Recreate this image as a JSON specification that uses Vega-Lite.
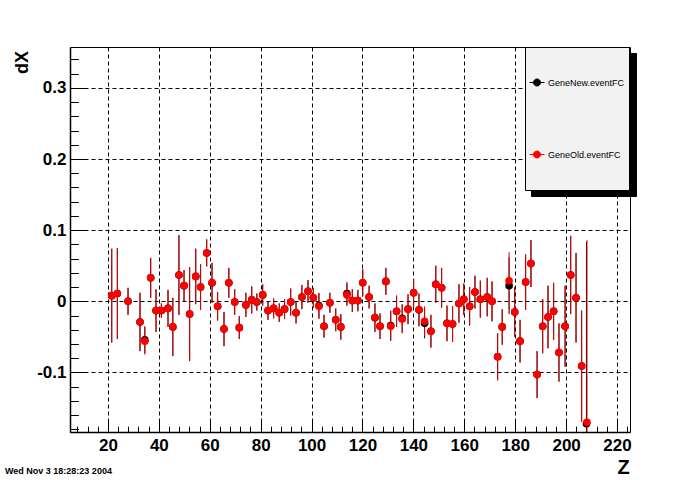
{
  "$schema": "https://vega.github.io/schema/vega-lite/v6.json",
  "width": 560,
  "height": 385,
  "autosize": {"type": "none"},
  "padding": {"left": 70, "top": 47, "right": 70, "bottom": 48},
  "background": "white",
  "title": {
    "text": "Wed Nov  3 18:28:23 2004",
    "orient": "bottom",
    "anchor": "start",
    "frame": "group",
    "font": "Liberation Sans",
    "fontSize": 9,
    "fontWeight": "bold",
    "color": "black",
    "dx": -65,
    "dy": -10,
    "offset": 0
  },
  "config": {
    "view": {"stroke": "black", "strokeWidth": 1},
    "axis": {
      "labelFont": "Liberation Sans",
      "labelFontWeight": "bold",
      "labelFontSize": 17,
      "labelColor": "black",
      "tickColor": "black",
      "domainColor": "black",
      "titleFont": "Liberation Sans",
      "titleFontWeight": "bold",
      "titleColor": "black"
    }
  },
  "datasets": {
    "pts": [
      {"z": 21.5, "dx": 0.008, "err": 0.066, "series": "GeneNew.eventFC"},
      {"z": 23.7, "dx": 0.011, "err": 0.064, "series": "GeneNew.eventFC"},
      {"z": 27.9, "dx": 0.000, "err": 0.019, "series": "GeneNew.eventFC"},
      {"z": 32.6, "dx": -0.029, "err": 0.041, "series": "GeneNew.eventFC"},
      {"z": 34.5, "dx": -0.054, "err": 0.019, "series": "GeneNew.eventFC"},
      {"z": 36.8, "dx": 0.033, "err": 0.028, "series": "GeneNew.eventFC"},
      {"z": 38.9, "dx": -0.013, "err": 0.030, "series": "GeneNew.eventFC"},
      {"z": 41.0, "dx": -0.013, "err": 0.010, "series": "GeneNew.eventFC"},
      {"z": 43.6, "dx": -0.010, "err": 0.026, "series": "GeneNew.eventFC"},
      {"z": 45.5, "dx": -0.036, "err": 0.041, "series": "GeneNew.eventFC"},
      {"z": 47.9, "dx": 0.037, "err": 0.056, "series": "GeneNew.eventFC"},
      {"z": 49.9, "dx": 0.022, "err": 0.022, "series": "GeneNew.eventFC"},
      {"z": 52.1, "dx": -0.018, "err": 0.066, "series": "GeneNew.eventFC"},
      {"z": 54.5, "dx": 0.035, "err": 0.039, "series": "GeneNew.eventFC"},
      {"z": 56.4, "dx": 0.020, "err": 0.032, "series": "GeneNew.eventFC"},
      {"z": 58.8, "dx": 0.068, "err": 0.019, "series": "GeneNew.eventFC"},
      {"z": 60.9, "dx": 0.026, "err": 0.028, "series": "GeneNew.eventFC"},
      {"z": 63.1, "dx": -0.007, "err": 0.020, "series": "GeneNew.eventFC"},
      {"z": 65.6, "dx": -0.039, "err": 0.024, "series": "GeneNew.eventFC"},
      {"z": 67.5, "dx": 0.026, "err": 0.021, "series": "GeneNew.eventFC"},
      {"z": 69.8, "dx": -0.001, "err": 0.018, "series": "GeneNew.eventFC"},
      {"z": 71.6, "dx": -0.037, "err": 0.016, "series": "GeneNew.eventFC"},
      {"z": 74.2, "dx": -0.005, "err": 0.017, "series": "GeneNew.eventFC"},
      {"z": 76.5, "dx": 0.002, "err": 0.019, "series": "GeneNew.eventFC"},
      {"z": 78.5, "dx": -0.001, "err": 0.012, "series": "GeneNew.eventFC"},
      {"z": 80.8, "dx": 0.009, "err": 0.015, "series": "GeneNew.eventFC"},
      {"z": 82.9, "dx": -0.013, "err": 0.013, "series": "GeneNew.eventFC"},
      {"z": 85.1, "dx": -0.010, "err": 0.014, "series": "GeneNew.eventFC"},
      {"z": 87.3, "dx": -0.016, "err": 0.013, "series": "GeneNew.eventFC"},
      {"z": 89.4, "dx": -0.011, "err": 0.014, "series": "GeneNew.eventFC"},
      {"z": 91.8, "dx": -0.001, "err": 0.019, "series": "GeneNew.eventFC"},
      {"z": 93.9, "dx": -0.016, "err": 0.015, "series": "GeneNew.eventFC"},
      {"z": 96.2, "dx": 0.006, "err": 0.017, "series": "GeneNew.eventFC"},
      {"z": 98.6, "dx": 0.014, "err": 0.016, "series": "GeneNew.eventFC"},
      {"z": 100.7, "dx": 0.005, "err": 0.014, "series": "GeneNew.eventFC"},
      {"z": 102.9, "dx": -0.006, "err": 0.018, "series": "GeneNew.eventFC"},
      {"z": 104.9, "dx": -0.035, "err": 0.016, "series": "GeneNew.eventFC"},
      {"z": 107.2, "dx": -0.002, "err": 0.014, "series": "GeneNew.eventFC"},
      {"z": 109.5, "dx": -0.026, "err": 0.016, "series": "GeneNew.eventFC"},
      {"z": 111.5, "dx": -0.036, "err": 0.018, "series": "GeneNew.eventFC"},
      {"z": 113.9, "dx": 0.011, "err": 0.016, "series": "GeneNew.eventFC"},
      {"z": 116.0, "dx": 0.001, "err": 0.016, "series": "GeneNew.eventFC"},
      {"z": 118.2, "dx": 0.001, "err": 0.015, "series": "GeneNew.eventFC"},
      {"z": 120.1, "dx": 0.026, "err": 0.019, "series": "GeneNew.eventFC"},
      {"z": 122.6, "dx": 0.006, "err": 0.016, "series": "GeneNew.eventFC"},
      {"z": 124.9, "dx": -0.023, "err": 0.020, "series": "GeneNew.eventFC"},
      {"z": 126.9, "dx": -0.035, "err": 0.018, "series": "GeneNew.eventFC"},
      {"z": 129.2, "dx": 0.028, "err": 0.019, "series": "GeneNew.eventFC"},
      {"z": 131.1, "dx": -0.034, "err": 0.021, "series": "GeneNew.eventFC"},
      {"z": 133.4, "dx": -0.014, "err": 0.022, "series": "GeneNew.eventFC"},
      {"z": 135.6, "dx": -0.024, "err": 0.020, "series": "GeneNew.eventFC"},
      {"z": 137.9, "dx": -0.011, "err": 0.021, "series": "GeneNew.eventFC"},
      {"z": 140.1, "dx": 0.012, "err": 0.019, "series": "GeneNew.eventFC"},
      {"z": 142.2, "dx": -0.012, "err": 0.023, "series": "GeneNew.eventFC"},
      {"z": 144.4, "dx": -0.031, "err": 0.021, "series": "GeneNew.eventFC"},
      {"z": 146.9, "dx": -0.042, "err": 0.023, "series": "GeneNew.eventFC"},
      {"z": 148.8, "dx": 0.024, "err": 0.026, "series": "GeneNew.eventFC"},
      {"z": 151.1, "dx": 0.019, "err": 0.028, "series": "GeneNew.eventFC"},
      {"z": 153.2, "dx": -0.031, "err": 0.025, "series": "GeneNew.eventFC"},
      {"z": 155.4, "dx": -0.032, "err": 0.025, "series": "GeneNew.eventFC"},
      {"z": 157.9, "dx": -0.003, "err": 0.027, "series": "GeneNew.eventFC"},
      {"z": 159.8, "dx": 0.003, "err": 0.022, "series": "GeneNew.eventFC"},
      {"z": 162.1, "dx": -0.007, "err": 0.027, "series": "GeneNew.eventFC"},
      {"z": 164.2, "dx": 0.013, "err": 0.023, "series": "GeneNew.eventFC"},
      {"z": 166.3, "dx": 0.003, "err": 0.026, "series": "GeneNew.eventFC"},
      {"z": 169.0, "dx": 0.006, "err": 0.027, "series": "GeneNew.eventFC"},
      {"z": 170.9, "dx": 0.000, "err": 0.028, "series": "GeneNew.eventFC"},
      {"z": 173.1, "dx": -0.078, "err": 0.033, "series": "GeneNew.eventFC"},
      {"z": 174.9, "dx": -0.036, "err": 0.025, "series": "GeneNew.eventFC"},
      {"z": 177.6, "dx": 0.022, "err": 0.040, "series": "GeneNew.eventFC"},
      {"z": 179.8, "dx": -0.015, "err": 0.035, "series": "GeneNew.eventFC"},
      {"z": 181.9, "dx": -0.056, "err": 0.030, "series": "GeneNew.eventFC"},
      {"z": 184.1, "dx": 0.027, "err": 0.039, "series": "GeneNew.eventFC"},
      {"z": 186.2, "dx": 0.053, "err": 0.033, "series": "GeneNew.eventFC"},
      {"z": 188.6, "dx": -0.103, "err": 0.033, "series": "GeneNew.eventFC"},
      {"z": 190.8, "dx": -0.035, "err": 0.038, "series": "GeneNew.eventFC"},
      {"z": 192.9, "dx": -0.022, "err": 0.044, "series": "GeneNew.eventFC"},
      {"z": 195.1, "dx": -0.014, "err": 0.040, "series": "GeneNew.eventFC"},
      {"z": 197.2, "dx": -0.072, "err": 0.041, "series": "GeneNew.eventFC"},
      {"z": 199.6, "dx": -0.035, "err": 0.057, "series": "GeneNew.eventFC"},
      {"z": 201.8, "dx": 0.037, "err": 0.055, "series": "GeneNew.eventFC"},
      {"z": 203.9, "dx": 0.005, "err": 0.063, "series": "GeneNew.eventFC"},
      {"z": 206.1, "dx": -0.091, "err": 0.078, "series": "GeneNew.eventFC"},
      {"z": 208.0, "dx": -0.172, "err": 0.256, "series": "GeneNew.eventFC"},
      {"z": 21.5, "dx": 0.008, "err": 0.066, "series": "GeneOld.eventFC"},
      {"z": 23.7, "dx": 0.011, "err": 0.064, "series": "GeneOld.eventFC"},
      {"z": 27.9, "dx": 0.000, "err": 0.019, "series": "GeneOld.eventFC"},
      {"z": 32.6, "dx": -0.029, "err": 0.041, "series": "GeneOld.eventFC"},
      {"z": 34.5, "dx": -0.056, "err": 0.019, "series": "GeneOld.eventFC"},
      {"z": 36.8, "dx": 0.033, "err": 0.028, "series": "GeneOld.eventFC"},
      {"z": 38.9, "dx": -0.013, "err": 0.030, "series": "GeneOld.eventFC"},
      {"z": 41.0, "dx": -0.013, "err": 0.010, "series": "GeneOld.eventFC"},
      {"z": 43.6, "dx": -0.010, "err": 0.026, "series": "GeneOld.eventFC"},
      {"z": 45.5, "dx": -0.036, "err": 0.041, "series": "GeneOld.eventFC"},
      {"z": 47.9, "dx": 0.037, "err": 0.056, "series": "GeneOld.eventFC"},
      {"z": 49.9, "dx": 0.022, "err": 0.022, "series": "GeneOld.eventFC"},
      {"z": 52.1, "dx": -0.018, "err": 0.066, "series": "GeneOld.eventFC"},
      {"z": 54.5, "dx": 0.035, "err": 0.039, "series": "GeneOld.eventFC"},
      {"z": 56.4, "dx": 0.020, "err": 0.032, "series": "GeneOld.eventFC"},
      {"z": 58.8, "dx": 0.068, "err": 0.019, "series": "GeneOld.eventFC"},
      {"z": 60.9, "dx": 0.026, "err": 0.028, "series": "GeneOld.eventFC"},
      {"z": 63.1, "dx": -0.007, "err": 0.020, "series": "GeneOld.eventFC"},
      {"z": 65.6, "dx": -0.039, "err": 0.024, "series": "GeneOld.eventFC"},
      {"z": 67.5, "dx": 0.026, "err": 0.021, "series": "GeneOld.eventFC"},
      {"z": 69.8, "dx": -0.001, "err": 0.018, "series": "GeneOld.eventFC"},
      {"z": 71.6, "dx": -0.037, "err": 0.016, "series": "GeneOld.eventFC"},
      {"z": 74.2, "dx": -0.005, "err": 0.017, "series": "GeneOld.eventFC"},
      {"z": 76.5, "dx": 0.002, "err": 0.019, "series": "GeneOld.eventFC"},
      {"z": 78.5, "dx": -0.001, "err": 0.012, "series": "GeneOld.eventFC"},
      {"z": 80.8, "dx": 0.009, "err": 0.015, "series": "GeneOld.eventFC"},
      {"z": 82.9, "dx": -0.013, "err": 0.013, "series": "GeneOld.eventFC"},
      {"z": 85.1, "dx": -0.010, "err": 0.014, "series": "GeneOld.eventFC"},
      {"z": 87.3, "dx": -0.016, "err": 0.013, "series": "GeneOld.eventFC"},
      {"z": 89.4, "dx": -0.011, "err": 0.014, "series": "GeneOld.eventFC"},
      {"z": 91.8, "dx": -0.001, "err": 0.019, "series": "GeneOld.eventFC"},
      {"z": 93.9, "dx": -0.016, "err": 0.015, "series": "GeneOld.eventFC"},
      {"z": 96.2, "dx": 0.006, "err": 0.017, "series": "GeneOld.eventFC"},
      {"z": 98.6, "dx": 0.014, "err": 0.016, "series": "GeneOld.eventFC"},
      {"z": 100.7, "dx": 0.005, "err": 0.014, "series": "GeneOld.eventFC"},
      {"z": 102.9, "dx": -0.007, "err": 0.018, "series": "GeneOld.eventFC"},
      {"z": 104.9, "dx": -0.035, "err": 0.016, "series": "GeneOld.eventFC"},
      {"z": 107.2, "dx": -0.002, "err": 0.014, "series": "GeneOld.eventFC"},
      {"z": 109.5, "dx": -0.026, "err": 0.016, "series": "GeneOld.eventFC"},
      {"z": 111.5, "dx": -0.036, "err": 0.018, "series": "GeneOld.eventFC"},
      {"z": 113.9, "dx": 0.009, "err": 0.016, "series": "GeneOld.eventFC"},
      {"z": 116.0, "dx": 0.001, "err": 0.016, "series": "GeneOld.eventFC"},
      {"z": 118.2, "dx": 0.001, "err": 0.015, "series": "GeneOld.eventFC"},
      {"z": 120.1, "dx": 0.026, "err": 0.019, "series": "GeneOld.eventFC"},
      {"z": 122.6, "dx": 0.006, "err": 0.016, "series": "GeneOld.eventFC"},
      {"z": 124.9, "dx": -0.023, "err": 0.020, "series": "GeneOld.eventFC"},
      {"z": 126.9, "dx": -0.035, "err": 0.018, "series": "GeneOld.eventFC"},
      {"z": 129.2, "dx": 0.028, "err": 0.019, "series": "GeneOld.eventFC"},
      {"z": 131.1, "dx": -0.035, "err": 0.021, "series": "GeneOld.eventFC"},
      {"z": 133.4, "dx": -0.014, "err": 0.022, "series": "GeneOld.eventFC"},
      {"z": 135.6, "dx": -0.025, "err": 0.020, "series": "GeneOld.eventFC"},
      {"z": 137.9, "dx": -0.011, "err": 0.021, "series": "GeneOld.eventFC"},
      {"z": 140.1, "dx": 0.012, "err": 0.019, "series": "GeneOld.eventFC"},
      {"z": 142.2, "dx": -0.012, "err": 0.023, "series": "GeneOld.eventFC"},
      {"z": 144.4, "dx": -0.028, "err": 0.021, "series": "GeneOld.eventFC"},
      {"z": 146.9, "dx": -0.042, "err": 0.023, "series": "GeneOld.eventFC"},
      {"z": 148.8, "dx": 0.024, "err": 0.026, "series": "GeneOld.eventFC"},
      {"z": 151.1, "dx": 0.019, "err": 0.028, "series": "GeneOld.eventFC"},
      {"z": 153.2, "dx": -0.031, "err": 0.025, "series": "GeneOld.eventFC"},
      {"z": 155.4, "dx": -0.032, "err": 0.025, "series": "GeneOld.eventFC"},
      {"z": 157.9, "dx": -0.003, "err": 0.027, "series": "GeneOld.eventFC"},
      {"z": 159.8, "dx": 0.003, "err": 0.022, "series": "GeneOld.eventFC"},
      {"z": 162.1, "dx": -0.007, "err": 0.027, "series": "GeneOld.eventFC"},
      {"z": 164.2, "dx": 0.013, "err": 0.023, "series": "GeneOld.eventFC"},
      {"z": 166.3, "dx": 0.003, "err": 0.026, "series": "GeneOld.eventFC"},
      {"z": 169.0, "dx": 0.006, "err": 0.027, "series": "GeneOld.eventFC"},
      {"z": 170.9, "dx": 0.000, "err": 0.028, "series": "GeneOld.eventFC"},
      {"z": 173.1, "dx": -0.078, "err": 0.033, "series": "GeneOld.eventFC"},
      {"z": 174.9, "dx": -0.036, "err": 0.025, "series": "GeneOld.eventFC"},
      {"z": 177.6, "dx": 0.029, "err": 0.040, "series": "GeneOld.eventFC"},
      {"z": 179.8, "dx": -0.015, "err": 0.035, "series": "GeneOld.eventFC"},
      {"z": 181.9, "dx": -0.056, "err": 0.030, "series": "GeneOld.eventFC"},
      {"z": 184.1, "dx": 0.027, "err": 0.039, "series": "GeneOld.eventFC"},
      {"z": 186.2, "dx": 0.053, "err": 0.033, "series": "GeneOld.eventFC"},
      {"z": 188.6, "dx": -0.103, "err": 0.033, "series": "GeneOld.eventFC"},
      {"z": 190.8, "dx": -0.035, "err": 0.038, "series": "GeneOld.eventFC"},
      {"z": 192.9, "dx": -0.022, "err": 0.044, "series": "GeneOld.eventFC"},
      {"z": 195.1, "dx": -0.014, "err": 0.040, "series": "GeneOld.eventFC"},
      {"z": 197.2, "dx": -0.072, "err": 0.041, "series": "GeneOld.eventFC"},
      {"z": 199.6, "dx": -0.035, "err": 0.057, "series": "GeneOld.eventFC"},
      {"z": 201.8, "dx": 0.037, "err": 0.055, "series": "GeneOld.eventFC"},
      {"z": 203.9, "dx": 0.005, "err": 0.063, "series": "GeneOld.eventFC"},
      {"z": 206.1, "dx": -0.091, "err": 0.078, "series": "GeneOld.eventFC"},
      {"z": 208.2, "dx": -0.170, "err": 0.256, "series": "GeneOld.eventFC"}
    ],
    "legendShadow": [
      {"entry": "shadowNew"},
      {"entry": "shadowOld"}
    ]
  },
  "layer": [
    {
      "data": {"name": "pts"},
      "transform": [{"filter": "datum.series == 'GeneNew.eventFC'"}],
      "mark": {"type": "errorbar", "ticks": false, "color": "#000000", "rule": {"strokeWidth": 1}},
      "encoding": {
        "x": {
          "field": "z",
          "type": "quantitative",
          "scale": {"domain": [5.1, 225.1], "nice": false, "zero": false},
          "axis": {
            "orient": "bottom",
            "values": [20, 40, 60, 80, 100, 120, 140, 160, 180, 200, 220],
            "format": "d",
            "tickSize": -11.5,
            "tickWidth": 1,
            "labelPadding": 17,
            "grid": true,
            "gridColor": "black",
            "gridOpacity": 1,
            "gridDash": [4, 3],
            "gridWidth": 1,
            "domainWidth": 1.5,
            "title": "Z",
            "titleFontSize": 20,
            "titleX": 553,
            "titleY": 35,
            "titleAlign": "center",
            "titleBaseline": "middle"
          }
        },
        "y": {
          "field": "dx",
          "type": "quantitative",
          "scale": {"domain": [-0.1837, 0.3575], "nice": false, "zero": false, "clamp": true},
          "axis": {
            "orient": "left",
            "values": [-0.1, 0, 0.1, 0.2, 0.3],
            "labelExpr": "datum.value == 0 ? '0' : (datum.value < 0 ? '-' + format(-datum.value, '.1f') : format(datum.value, '.1f'))",
            "tickSize": -17,
            "tickWidth": 1,
            "labelPadding": 21,
            "grid": true,
            "gridColor": "black",
            "gridOpacity": 1,
            "gridDash": [4, 3],
            "gridWidth": 1,
            "domainWidth": 1.5,
            "title": "dX",
            "titleFontSize": 18,
            "titleX": -48,
            "titleY": 15,
            "titleAngle": 270,
            "titleAlign": "center",
            "titleBaseline": "middle"
          }
        },
        "yError": {"field": "err"}
      }
    },
    {
      "data": {"name": "pts"},
      "transform": [{"filter": "datum.series == 'GeneOld.eventFC'"}],
      "mark": {"type": "errorbar", "ticks": false, "color": "#e00000", "rule": {"strokeWidth": 1}},
      "encoding": {
        "x": {"field": "z", "type": "quantitative", "axis": null},
        "y": {"field": "dx", "type": "quantitative", "axis": null},
        "yError": {"field": "err"}
      }
    },
    {
      "data": {"name": "pts"},
      "mark": {"type": "point", "filled": true, "size": 58, "opacity": 1, "strokeWidth": 0},
      "encoding": {
        "x": {
          "field": "z",
          "type": "quantitative",
          "axis": {
            "orient": "bottom",
            "values": [8, 12, 16, 24, 28, 32, 36, 44, 48, 52, 56, 64, 68, 72, 76, 84, 88, 92, 96, 104, 108, 112, 116, 124, 128, 132, 136, 144, 148, 152, 156, 164, 168, 172, 176, 184, 188, 192, 196, 204, 208, 212, 216, 224],
            "tickSize": -5.8,
            "tickWidth": 1,
            "labels": false,
            "grid": false,
            "domain": false,
            "title": null
          }
        },
        "y": {
          "field": "dx",
          "type": "quantitative",
          "axis": {
            "orient": "left",
            "values": [-0.18, -0.16, -0.14, -0.12, -0.08, -0.06, -0.04, -0.02, 0.02, 0.04, 0.06, 0.08, 0.12, 0.14, 0.16, 0.18, 0.22, 0.24, 0.26, 0.28, 0.32, 0.34],
            "tickSize": -8.4,
            "tickWidth": 1,
            "labels": false,
            "grid": false,
            "domain": false,
            "title": null
          }
        },
        "fill": {
          "field": "series",
          "type": "nominal",
          "scale": {"domain": ["GeneNew.eventFC", "GeneOld.eventFC"], "range": ["#000000", "#ff0000"]},
          "legend": {
            "orient": "none",
            "legendX": 455,
            "legendY": 0,
            "direction": "vertical",
            "title": null,
            "fillColor": "#f2f2f2",
            "strokeColor": "black",
            "padding": 4,
            "rowPadding": 9,
            "clipHeight": 63,
            "labelFont": "Liberation Sans",
            "labelFontSize": 9,
            "labelColor": "black",
            "labelLimit": 0,
            "labelOffset": 3,
            "symbolType": "M-1,0L1,0M-0.47,0A0.47,0.47,0,1,1,0.47,0A0.47,0.47,0,1,1,-0.47,0Z",
            "symbolSize": 225,
            "symbolStrokeWidth": 1,
            "symbolOpacity": 1,
            "zindex": 2,
            "encode": {
              "symbols": {
                "update": {
                  "stroke": {"scale": "fill", "field": "value"},
                  "fill": {"scale": "fill", "field": "value"},
                  "strokeWidth": {"value": 1}
                }
              }
            }
          }
        }
      }
    },
    {
      "data": {"name": "legendShadow"},
      "mark": {"type": "point", "opacity": 0},
      "encoding": {
        "shape": {
          "field": "entry",
          "type": "nominal",
          "scale": {"range": ["circle", "circle"]},
          "legend": {
            "orient": "none",
            "legendX": 461,
            "legendY": 6,
            "direction": "vertical",
            "title": null,
            "fillColor": "black",
            "strokeColor": "black",
            "padding": 4,
            "rowPadding": 9,
            "clipHeight": 63,
            "labelFont": "Liberation Sans",
            "labelFontSize": 9,
            "labelColor": "black",
            "labelOpacity": 0,
            "labelLimit": 0,
            "labelOffset": 3,
            "labelExpr": "datum.label == 'shadowNew' ? 'GeneNew.eventFC' : 'GeneOld.eventFC'",
            "symbolSize": 225,
            "symbolFillColor": "black",
            "symbolStrokeColor": "black",
            "zindex": 1
          }
        }
      }
    }
  ],
  "resolve": {"axis": {"x": "independent", "y": "independent"}}
}
